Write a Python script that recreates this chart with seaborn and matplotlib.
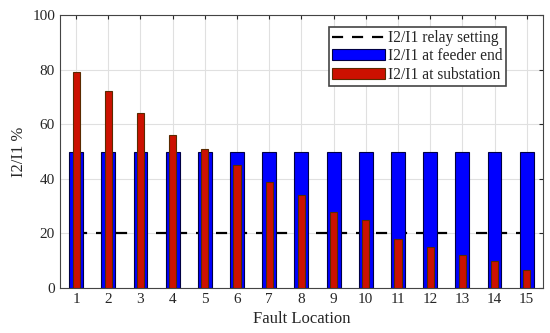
import matplotlib
matplotlib.use("Agg")
import matplotlib.pyplot as plt
import seaborn as sns
import pandas as pd

locations = [str(i) for i in range(1, 16)]
feeder_end = [50] * 15
substation = [79, 72, 64, 56, 51, 45, 39, 34, 28, 25, 18, 15, 12, 10, 6.5]
relay_setting = 20

df = pd.DataFrame({"loc": locations, "feeder": feeder_end, "sub": substation,
                   "relay": [relay_setting] * 15})

sns.set_style("whitegrid")
plt.rcParams['font.family'] = ['Liberation Serif', 'DejaVu Serif']

fig = plt.figure(figsize=(5.5, 3.33), dpi=100)
ax = fig.add_axes([0.109, 0.135, 0.878, 0.820])

sns.lineplot(data=df, x="loc", y="relay", color="black", linestyle=(0, (5, 4)),
             linewidth=1.6, label="I2/I1 relay setting", ax=ax, zorder=1, sort=False)
sns.barplot(data=df, x="loc", y="feeder", order=locations, color="#0000ff",
            width=0.43, edgecolor="#000044", linewidth=0.8, saturation=1, ax=ax,
            label="I2/I1 at feeder end", zorder=2)
sns.barplot(data=df, x="loc", y="sub", order=locations, color="#cc1100",
            width=0.22, edgecolor="#5a2a00", linewidth=0.8, saturation=1, ax=ax,
            label="I2/I1 at substation", zorder=3)

ax.set_xlim(-0.5, 14.5)
ax.set_ylim(0, 100)
ax.set_yticks([0, 20, 40, 60, 80, 100])
ax.set_xlabel("Fault Location", fontsize=12)
ax.set_ylabel("I2/I1 %", fontsize=12)
ax.tick_params(axis="both", labelsize=11, length=3, direction="in", top=True, right=True)
ax.grid(True, color="#e0e0e0", linewidth=0.8)
ax.set_axisbelow(True)
for s in ax.spines.values():
    s.set_color("#444444")
    s.set_linewidth(0.8)

handles, labels = ax.get_legend_handles_labels()
order = [labels.index("I2/I1 relay setting"), labels.index("I2/I1 at feeder end"),
         labels.index("I2/I1 at substation")]
leg = ax.legend([handles[i] for i in order], [labels[i] for i in order],
                loc="upper right", bbox_to_anchor=(0.94, 0.985), fontsize=11.2,
                frameon=True, fancybox=False, framealpha=1, edgecolor="#444444",
                borderpad=0.2, handlelength=3.4, handletextpad=0.2, labelspacing=0.15)
leg.get_frame().set_linewidth(1.2)

fig.savefig("out.png", dpi=100)
